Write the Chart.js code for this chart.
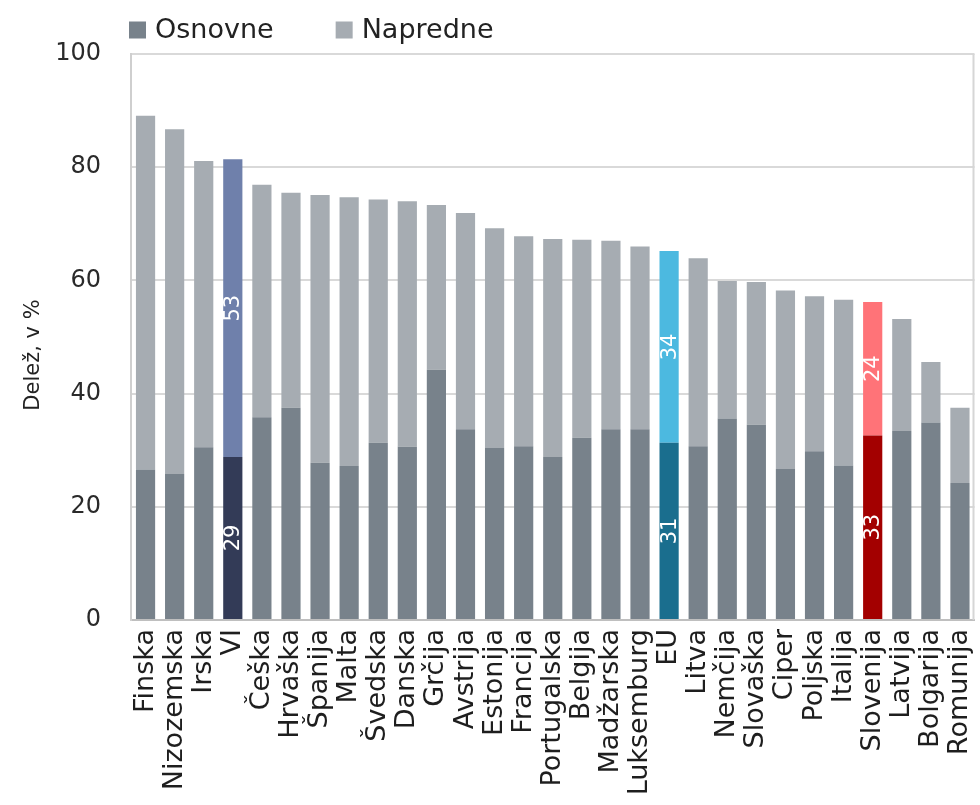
<!DOCTYPE html>
<html><head><meta charset="utf-8">
<script src="https://cdn.jsdelivr.net/npm/chart.js@4.4.0/dist/chart.umd.min.js"></script>
<style>html,body{margin:0;padding:0;background:#fff;overflow:hidden}#wrap{width:980px;height:805px;position:relative}</style>
</head><body><div id="wrap"><canvas id="c" width="980" height="805"></canvas></div>
<script>
const categories = ['Finska','Nizozemska','Irska','VI','Češka','Hrvaška','Španija','Malta','Švedska','Danska','Grčija','Avstrija','Estonija','Francija','Portugalska','Belgija','Madžarska','Luksemburg','EU','Litva','Nemčija','Slovaška','Ciper','Poljska','Italija','Slovenija','Latvija','Bolgarija','Romunija'];
const osnovne  = [26.6,25.8,30.5,28.8,35.8,37.5,27.8,27.2,31.3,30.6,44.2,33.7,30.4,30.7,28.8,32.2,33.7,33.7,31.3,30.7,35.6,34.5,26.7,29.8,27.3,32.6,33.4,34.9,24.2];
const napredne = [62.5,60.9,50.6,52.6,41.1,38.0,47.3,47.5,43.0,43.4,29.1,38.2,38.8,37.1,38.5,35.0,33.3,32.3,33.9,33.2,24.3,25.2,31.5,27.4,29.3,23.6,19.8,10.7,13.3];
const seriesNames = ['Osnovne','Napredne'];
const yTickValues = [0,20,40,60,80,100];
const yTitle = 'Delež, v %';
const labelledCategories = ['VI','EU','Slovenija'];

const FONT = '"DejaVu Sans", "Liberation Sans", sans-serif';
const baseColors = ['#78828b','#a6acb2'];
const highlightColors = { VI:['#333b57','#6f80ab'], EU:['#1a6e8e','#4cb9e0'], Slovenija:['#a30000','#ff7378'] };
const colorsFor = (s) => categories.map(c => highlightColors[c] ? highlightColors[c][s] : baseColors[s]);

const legendPlugin = {
  id:'customLegend',
  afterDraw(chart){
    const ctx = chart.ctx;
    ctx.save();
    ctx.font = '27px ' + FONT;
    ctx.textBaseline = 'middle';
    ctx.textAlign = 'left';
    let x = 129;
    const yMid = 30;
    chart.data.datasets.forEach((ds, i) => {
      ctx.fillStyle = baseColors[i];
      ctx.fillRect(x, yMid - 8.5, 17, 17);
      ctx.fillStyle = '#222';
      ctx.fillText(ds.label, x + 26, yMid + 1);
      x += 26 + ctx.measureText(ds.label).width + 62;
    });
    ctx.restore();
  }
};
const frameAndTitlePlugin = {
  id:'frameTitle',
  beforeDatasetsDraw(chart){
    const {ctx, chartArea:a} = chart;
    ctx.save();
    ctx.strokeStyle = '#d6d6d6'; ctx.lineWidth = 2;
    ctx.beginPath(); ctx.moveTo(a.right - 1, a.top); ctx.lineTo(a.right - 1, a.bottom); ctx.stroke();
    ctx.restore();
  },
  afterDraw(chart){
    const ctx = chart.ctx;
    ctx.save();
    ctx.translate(34, 355);
    ctx.rotate(-Math.PI/2);
    ctx.font = '21px ' + FONT;
    ctx.fillStyle = '#222';
    ctx.textAlign = 'center'; ctx.textBaseline = 'middle';
    ctx.fillText(yTitle, 0, 0);
    ctx.restore();
  }
};
const valueLabelPlugin = {
  id:'valueLabels',
  afterDatasetsDraw(chart){
    const ctx = chart.ctx;
    chart.data.datasets.forEach((ds, di) => {
      const meta = chart.getDatasetMeta(di);
      meta.data.forEach((bar, i) => {
        if (!labelledCategories.includes(categories[i])) return;
        const p = bar.getProps(['x','y','base'], true);
        ctx.save();
        ctx.translate(p.x, (p.y + p.base)/2);
        ctx.rotate(-Math.PI/2);
        ctx.font = '21px ' + FONT;
        ctx.fillStyle = '#ffffff';
        ctx.textAlign = 'center'; ctx.textBaseline = 'middle';
        ctx.fillText(String(Math.round(ds.data[i])), 0, 1);
        ctx.restore();
      });
    });
  }
};

new Chart(document.getElementById('c'), {
  type:'bar',
  data:{
    labels: categories,
    datasets:[
      { label: seriesNames[0], data: osnovne, backgroundColor: colorsFor(0), barPercentage:0.66, categoryPercentage:1.0 },
      { label: seriesNames[1], data: napredne, backgroundColor: colorsFor(1), barPercentage:0.66, categoryPercentage:1.0 }
    ]
  },
  options:{
    responsive:false, animation:false, devicePixelRatio:1,
    layout:{ padding:{ top:54, right:5.5, bottom:0, left:0 } },
    plugins:{ legend:{display:false}, tooltip:{enabled:false} },
    scales:{
      x:{
        stacked:true,
        grid:{ display:false, drawTicks:false },
        border:{ display:true, color:'#bfbfbf', width:2 },
        ticks:{ autoSkip:false, maxRotation:90, minRotation:90, padding:9, color:'#1e1e1e', font:{ family:FONT, size:27 } },
        afterFit(s){ s.height = 185; s.paddingLeft = 0; s.paddingRight = 0; }
      },
      y:{
        stacked:true, min:0, max:100,
        afterBuildTicks(s){ s.ticks = yTickValues.map(v => ({value:v})); },
        grid:{ color:'#d9d9d9', lineWidth:2, drawTicks:false },
        border:{ display:true, color:'#cfcfcf', width:2 },
        ticks:{ padding:30, color:'#2a2a2a', font:{ family:FONT, size:24 } },
        title:{ display:false },
        afterFit(s){ s.width = 131; s.paddingTop = 0; s.paddingBottom = 0; }
      }
    }
  },
  plugins:[legendPlugin, frameAndTitlePlugin, valueLabelPlugin]
});
</script></body></html>
